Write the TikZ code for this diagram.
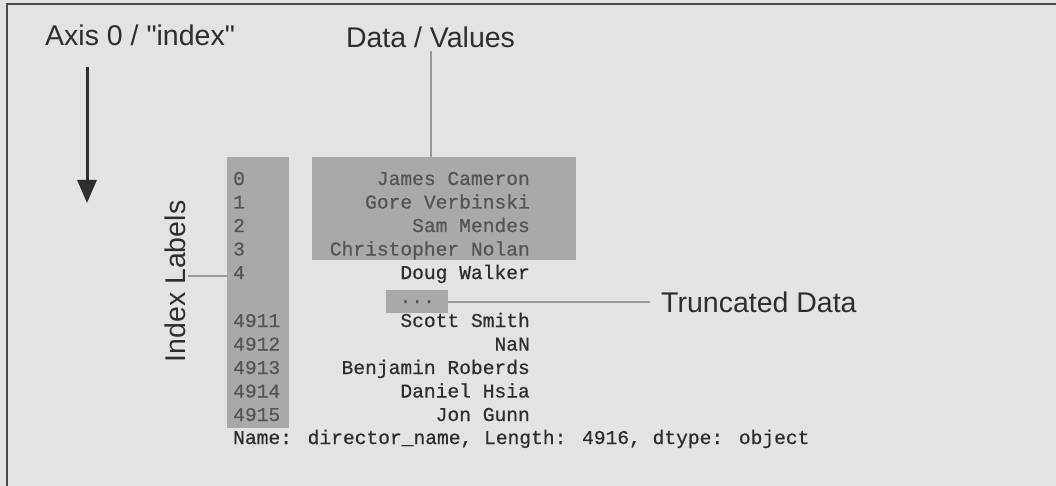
\documentclass[tikz,border=0pt]{standalone}
\usepackage{fontspec}
\setmainfont{Liberation Sans}
\newfontfamily\labelfont{Liberation Sans}
\newfontfamily\monof[FakeBold=0.6]{Liberation Mono}
\usetikzlibrary{arrows.meta}
\definecolor{bgc}{HTML}{E3E3E3}
\definecolor{boxc}{HTML}{A9A9A9}
\definecolor{connc}{HTML}{9A9A9A}
\definecolor{intxt}{HTML}{555555}
\definecolor{outtxt}{HTML}{2E2E2E}
\definecolor{framec}{HTML}{4A4A4A}
\tikzset{
  lbl/.style={font=\labelfont\fontsize{28.5}{30}\selectfont, text=outtxt, inner sep=3pt},
  grbox/.style={fill=boxc, draw=none, anchor=north west, inner sep=0pt},
  code/.style={font=\monof\fontsize{19.6}{22}\selectfont, inner sep=0pt},
  idxt/.style={code, text=intxt, anchor=base west},
  inval/.style={code, text=intxt, anchor=base east},
  outval/.style={code, text=outtxt, anchor=base east},
  conn/.style={draw=connc, line width=2pt},
}
\begin{document}
\begin{tikzpicture}[x=1pt,y=-1pt]
\fill[bgc] (0,0) rectangle (1056,486);
\useasboundingbox (0,0) rectangle (1056,486);
\draw[framec, line width=2pt] (1056,4) -- (7,4) -- (7,487);

% gray boxes
\node[grbox, minimum width=62pt, minimum height=271pt] (idx) at (227,157) {};
\node[grbox, minimum width=264pt, minimum height=103pt] (dat) at (312,157) {};

% labels
\node[lbl, anchor=base west, inner sep=0pt] (axis) at (45,46) {Axis 0 / "index"};
\node[lbl, anchor=base] (dv) at (430.5,48) {Data / Values};
\node[lbl, anchor=base west] (td) at (658,312) {Truncated Data};
\node[lbl, rotate=90, anchor=base] (il) at (185,281.5) {Index Labels};

% axis arrow
\coordinate (a0) at (87,67);
\coordinate (a1) at (87,203);
\draw[outtxt, line width=3pt, -{Triangle[width=19pt,length=23pt]}] (a0) -- (a1);

% index labels
\foreach \n/\t/\y in {i0/0/185, i1/1/208.5, i2/2/232, i3/3/255.5, i4/4/279,
  i5/4911/327, i6/4912/350.5, i7/4913/374, i8/4914/397.5, i9/4915/421}{
  \node[idxt] (\n) at (233,\y) {\t};
}

% values
\node[inval] (v0) at (530,185) {James Cameron};
\node[inval] (v1) at (530,208.5) {Gore Verbinski};
\node[inval] (v2) at (530,232) {Sam Mendes};
\node[inval] (v3) at (530,255.5) {Christopher Nolan};
\node[outval] (v4) at (530,279) {Doug Walker};
\node[outval] (v5) at (530,327) {Scott Smith};
\node[outval] (v6) at (530,350.5) {NaN};
\node[outval] (v7) at (530,374) {Benjamin Roberds};
\node[outval] (v8) at (530,397.5) {Daniel Hsia};
\node[outval] (v9) at (530,421) {Jon Gunn};
\node[code, text=outtxt, anchor=base west] (nm) at (233,444) {Name: director\_name, Length: 4916, dtype: object};

% truncated box
\node[grbox, minimum width=62pt, minimum height=23pt, code, text=intxt] (dots) at (386,290) {...};

% connectors
\draw[conn] (dv.south) -- (dv.south |- dat.north);
\draw[conn, shorten >=8pt] (dots.east) -- (dots.east -| td.west);
\draw[conn] ([yshift=5.5pt]il.south) -- ([yshift=5.5pt]il.south -| idx.west);
\end{tikzpicture}
\end{document}
